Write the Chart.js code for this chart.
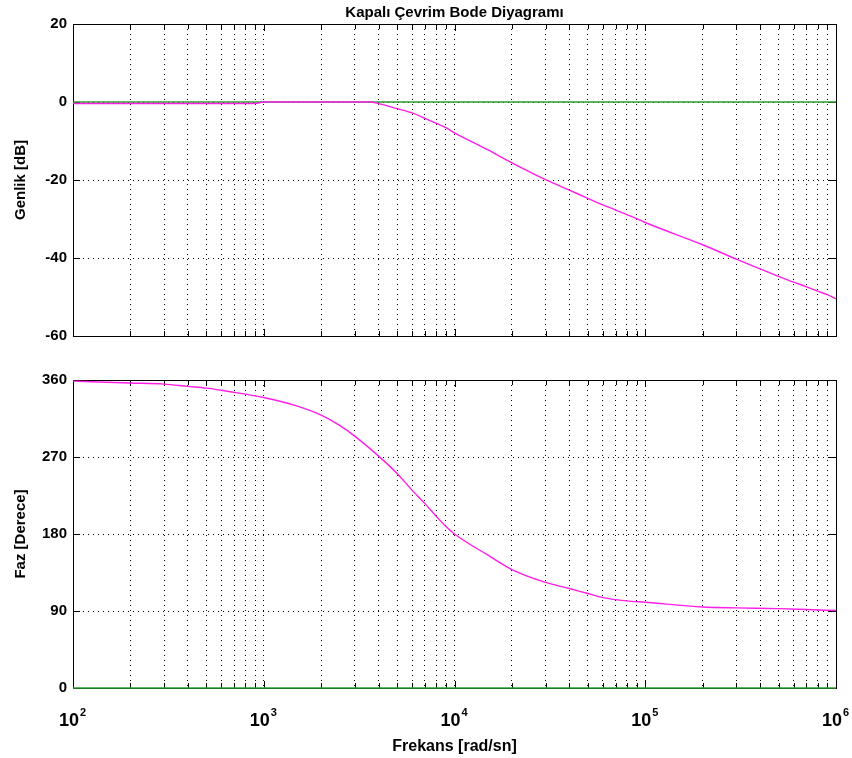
<!DOCTYPE html>
<html>
<head>
<meta charset="utf-8">
<script src="https://cdn.jsdelivr.net/npm/chart.js@4.4.0/dist/chart.umd.min.js"></script>
<style>
  html, body { margin: 0; padding: 0; background: #fff; }
  #wrap { position: relative; width: 852px; height: 758px; background: #fff; }
  canvas { position: absolute; left: 0; }
  #magChart { top: 0; }
  #phaseChart { top: 360px; }
</style>
</head>
<body>
<div id="wrap">
  <canvas id="magChart" width="852" height="360"></canvas>
  <canvas id="phaseChart" width="852" height="398"></canvas>
</div>
<script>
// closed loop response, magnitude [dB]
const magFreq = [100, 200, 300, 500, 700, 900, 1000, 2000, 3000, 3600, 4000, 5000, 6000, 7000, 8000, 9000,
  10000, 15000, 20000, 30000, 40000, 50000, 60000, 70000, 80000, 90000,
  1e5, 2e5, 3e5, 4e5, 5e5, 6e5, 7e5, 8e5, 9e5, 1e6];
const magDb = [-0.4, -0.4, -0.4, -0.4, -0.4, -0.4, 0, 0, 0, 0, -0.4, -1.7, -2.8, -4.2, -5.4, -6.6,
  -7.9, -12.3, -15.6, -19.9, -22.6, -24.7, -26.4, -27.7, -28.9, -29.9,
  -30.9, -36.6, -40.3, -42.8, -44.7, -46.2, -47.4, -48.5, -49.4, -50.5];

// closed loop response, phase [deg]
const phaseFreq = [100, 200, 300, 400, 500, 600, 700, 800, 1000, 1500, 2000, 2500, 3000, 4000, 5000, 6000,
  7000, 8000, 9000, 10000, 15000, 20000, 30000, 40000, 50000, 60000, 80000,
  1e5, 2e5, 3e5, 5e5, 7e5, 1e6];
const phaseDeg = [358.7, 356.5, 355.2, 352.5, 350.5, 348, 345.5, 343.5, 339.5, 329.5, 319, 307, 294.4, 271, 250.8, 231,
  215.5, 201, 189, 180, 155.2, 138.5, 123.5, 116.3, 110.4, 105.7, 101.8,
  100.2, 94.7, 93.6, 92.8, 91.7, 90.5];

// reference (0) line
const refFreq = [100, 1e6];
const refVal = [0, 0];

const magTicks = [-60, -40, -20, 0, 20];
const phaseTicks = [0, 90, 180, 270, 360];
const decadeExp = [2, 3, 4, 5, 6];

const FONT = '"Liberation Sans", Arial, Helvetica, sans-serif';
const MAGENTA = '#ff1ee6';
const GREEN = '#2ca02c';

// 1..9 x 10^n grid positions
const xGrid = [];
decadeExp.forEach((e, i) => {
  if (i === decadeExp.length - 1) { xGrid.push({ value: Math.pow(10, e), major: true }); return; }
  for (let m = 1; m <= 9; m++) xGrid.push({ value: m * Math.pow(10, e), major: m === 1 });
});

const pts = (xs, ys) => xs.map((x, i) => ({ x, y: ys[i] }));

// box, inward tick marks and all the hand placed text
const framePlugin = {
  id: 'frame',
  beforeDatasetsDraw(chart) {
    const { ctx, chartArea: a, scales } = chart;
    ctx.save();
    ctx.strokeStyle = '#000';
    ctx.lineWidth = 1;
    ctx.setLineDash([]);
    ctx.strokeRect(a.left + 0.5, a.top + 0.5, a.right - a.left, a.bottom - a.top);
    ctx.beginPath();
    scales.x.ticks.forEach(t => {
      const px = Math.round(scales.x.getPixelForValue(t.value)) + 0.5;
      const len = t.major ? 7 : 5;
      ctx.moveTo(px, a.bottom); ctx.lineTo(px, a.bottom - len);
      ctx.moveTo(px, a.top); ctx.lineTo(px, a.top + len);
    });
    scales.y.ticks.forEach(t => {
      const py = Math.round(scales.y.getPixelForValue(t.value)) + 0.5;
      ctx.moveTo(a.left, py); ctx.lineTo(a.left + 7, py);
      ctx.moveTo(a.right, py); ctx.lineTo(a.right - 7, py);
    });
    ctx.stroke();
    ctx.restore();
  },
  afterDraw(chart, args, opts) {
    const { ctx, chartArea: a, scales } = chart;
    ctx.save();
    ctx.fillStyle = '#000';
    if (opts.title) {
      ctx.font = 'bold 15px ' + FONT;
      ctx.textAlign = 'center';
      ctx.textBaseline = 'bottom';
      ctx.fillText(opts.title, (a.left + a.right) / 2, a.top - 4);
    }
    if (opts.yTitle) {
      ctx.save();
      ctx.font = 'bold 15px ' + FONT;
      ctx.translate(21, (a.top + a.bottom) / 2);
      ctx.rotate(-Math.PI / 2);
      ctx.textAlign = 'center';
      ctx.textBaseline = 'middle';
      ctx.fillText(opts.yTitle, 0, 0);
      ctx.restore();
    }
    if (opts.xLabels) {
      decadeExp.forEach(e => {
        const px = scales.x.getPixelForValue(Math.pow(10, e));
        ctx.font = 'bold 18px ' + FONT;
        ctx.textAlign = 'right';
        ctx.textBaseline = 'alphabetic';
        ctx.fillText('10', px + 6, a.bottom + 38);
        ctx.font = 'bold 11px ' + FONT;
        ctx.textAlign = 'left';
        ctx.fillText(String(e), px + 7, a.bottom + 28);
      });
    }
    if (opts.xTitle) {
      ctx.font = 'bold 16px ' + FONT;
      ctx.textAlign = 'center';
      ctx.textBaseline = 'alphabetic';
      ctx.fillText(opts.xTitle, (a.left + a.right) / 2, a.bottom + 63);
    }
    ctx.restore();
  }
};

function makeChart(id, cfg) {
  return new Chart(document.getElementById(id), {
    type: 'line',
    data: {
      datasets: [
        { data: pts(cfg.xs, cfg.ys), borderColor: MAGENTA, borderWidth: 1.4, pointRadius: 0,
          cubicInterpolationMode: 'monotone', clip: 4 },
        { data: pts(refFreq, refVal), borderColor: GREEN, borderWidth: 1.6, pointRadius: 0, tension: 0, clip: 4 }
      ]
    },
    options: {
      responsive: false,
      animation: false,
      parsing: false,
      layout: { padding: { top: cfg.padTop, right: 16, left: 0, bottom: 0 } },
      plugins: {
        legend: { display: false },
        tooltip: { enabled: false },
        frame: cfg.text
      },
      scales: {
        x: {
          type: 'logarithmic',
          min: 100,
          max: 1e6,
          afterBuildTicks: s => { s.ticks = xGrid.map(t => ({ value: t.value, major: t.major })); },
          afterFit: s => { s.height = cfg.xHeight; },
          ticks: { display: false },
          grid: { color: '#000', lineWidth: 1, drawTicks: false },
          border: { display: false, dash: [1, 4] }
        },
        y: {
          min: cfg.yTicks[0],
          max: cfg.yTicks[cfg.yTicks.length - 1],
          afterBuildTicks: s => { s.ticks = cfg.yTicks.map(v => ({ value: v })); },
          afterFit: s => { s.width = 73; },
          ticks: { color: '#000', padding: 6, font: { family: FONT, size: 15, weight: 'bold' } },
          grid: { color: '#000', lineWidth: 1, drawTicks: false },
          border: { display: false, dash: [1, 4] }
        }
      }
    },
    plugins: [framePlugin]
  });
}

makeChart('magChart', {
  xs: magFreq, ys: magDb, yTicks: magTicks, padTop: 24, xHeight: 24,
  text: { title: 'Kapalı Çevrim Bode Diyagramı', yTitle: 'Genlik [dB]' }
});

makeChart('phaseChart', {
  xs: phaseFreq, ys: phaseDeg, yTicks: phaseTicks, padTop: 20, xHeight: 70,
  text: { yTitle: 'Faz [Derece]', xLabels: true, xTitle: 'Frekans [rad/sn]' }
});
</script>
</body>
</html>
